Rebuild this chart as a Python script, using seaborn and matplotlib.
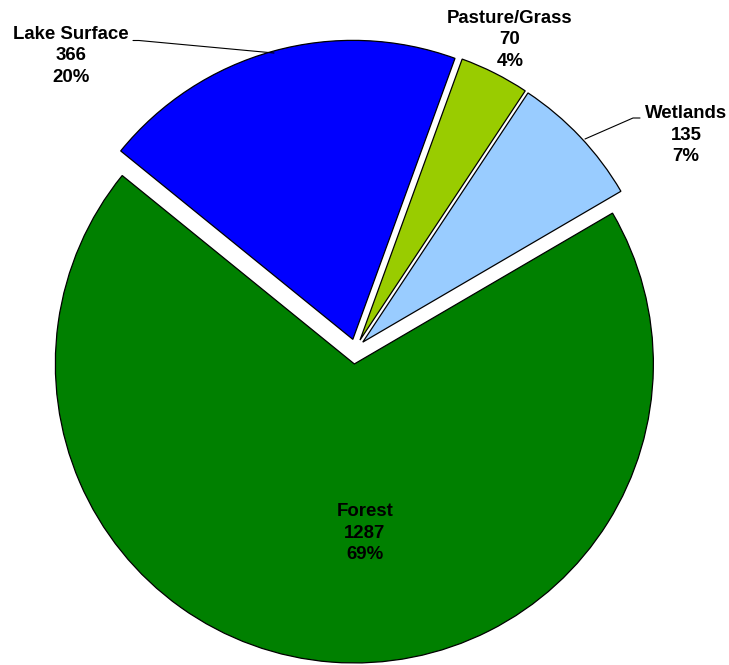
import matplotlib
matplotlib.use("Agg")
import matplotlib.pyplot as plt
import seaborn as sns

# Land cover areas in the watershed
categories = ["Forest", "Lake Surface", "Pasture/Grass", "Wetlands"]
areas = [1287, 366, 70, 135]
colors = ["#008000", "#0000FF", "#99CC00", "#99CCFF"]
explode_px = [15, 10, 10, 10]

sns.set_style("white")
plt.rcParams["font.family"] = ["Liberation Sans", "DejaVu Sans"]

W, H = 729, 665
fig = plt.figure(figsize=(W / 100, H / 100), dpi=100)
ax = fig.add_axes([0, 0, 1, 1])

cx, cy = 355.5, H - 349
R = 299

wedges, _ = ax.pie(
    areas,
    colors=colors,
    explode=explode_px,
    radius=R,
    center=(cx, cy),
    startangle=30.3,
    counterclock=False,
    wedgeprops=dict(edgecolor="black", linewidth=0.9),
)

total = sum(areas)
pct = [round(100 * a / total) for a in areas]
labels = [f"{c}\n{a}\n{p}%" for c, a, p in zip(categories, areas, pct)]

label_pos = {
    "Forest": (365, 533),
    "Lake Surface": (71, 56),
    "Pasture/Grass": (510, 40),
    "Wetlands": (686, 135),
}
txt_kw = dict(ha="center", va="center", fontsize=13.4, fontweight="bold",
              linespacing=1.34, color="black")
for cat, lab in zip(categories, labels):
    x, y = label_pos[cat]
    ax.text(x, H - y, lab, **txt_kw)

# leader lines for the outside labels
ax.plot([133, 139, 274], [H - 40.5, H - 40.5, H - 53], color="black", lw=0.8)
ax.plot([640, 633, 585], [H - 118, H - 118, H - 139], color="black", lw=0.8)

ax.set_xlim(0, W)
ax.set_ylim(0, H)
ax.set_aspect("equal")
ax.axis("off")

fig.savefig("out.png", dpi=100, facecolor="white")
